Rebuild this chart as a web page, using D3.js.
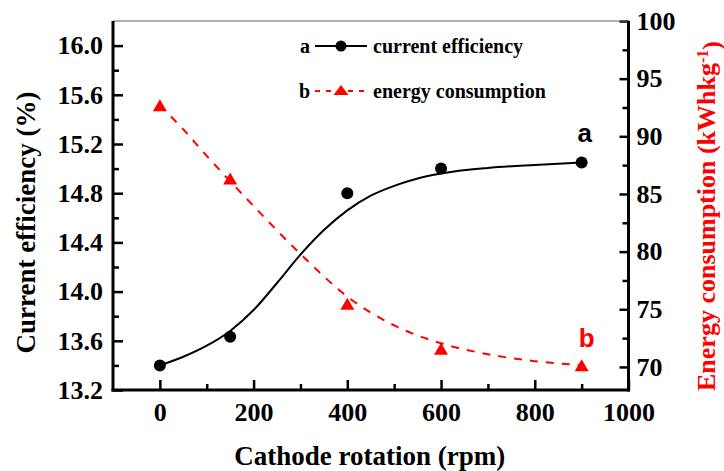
<!DOCTYPE html>
<html>
<head>
<meta charset="utf-8">
<script src="https://cdn.jsdelivr.net/npm/d3@7/dist/d3.min.js"></script>
<style>
  html, body { margin: 0; padding: 0; background: #fff; }
  svg { display: block; }
  .serif { font-family: "Liberation Serif", "Times New Roman", serif; font-weight: bold; }
  .sans { font-family: "Liberation Sans", Arial, sans-serif; font-weight: bold; }
</style>
</head>
<body>
<svg id="chart" width="724" height="471"></svg>
<script>
// Measured points
const rotation = [0, 150, 400, 600, 900];
const efficiency = [13.40, 13.633, 14.80, 15.00, 15.05];
const energy = [92.7, 86.35, 75.47, 71.57, 70.15];

// Fitted trend lines (sampled along each curve)
const effFitX = [0, 50, 100, 150, 200, 250, 300, 350, 400, 450, 500, 550, 600, 700, 800, 900];
const effFitY = [13.40, 13.47, 13.56, 13.68, 13.85, 14.07, 14.30, 14.50, 14.66, 14.78, 14.86, 14.92, 14.96, 15.005, 15.03, 15.05];
const energyFitX = [0, 50, 100, 150, 200, 300, 400, 500, 600, 700, 800, 900];
const energyFitY = [92.7, 90.6, 88.3, 86.1, 83.95, 79.8, 76.1, 73.6, 72.05, 71.1, 70.5, 70.15];

// Axis ticks
const xTicks = [0, 200, 400, 600, 800, 1000];
const xMinor = [100, 300, 500, 700, 900];
const yTicks = [13.2, 13.6, 14.0, 14.4, 14.8, 15.2, 15.6, 16.0];
const yMinor = [13.4, 13.8, 14.2, 14.6, 15.0, 15.4, 15.8];
const y2Ticks = [70, 75, 80, 85, 90, 95, 100];
const y2Minor = [72.5, 77.5, 82.5, 87.5, 92.5, 97.5];

const SERIF = '"Liberation Serif", "Times New Roman", serif';
const svg = d3.select("#chart");
const plotL = 113, plotR = 628.5, plotT = 21, plotB = 390;

const x = d3.scaleLinear().domain([-100, 1000]).range([plotL, plotR]);
const y = d3.scaleLinear().domain([13.2, 16.2]).range([plotB, plotT]);
const y2 = d3.scaleLinear().domain([68, 100]).range([plotB, plotT]);

function styleAxis(g, size) {
  g.attr("font-family", null).attr("font-size", null);
  g.select(".domain").remove();
  g.selectAll(".tick line").attr("stroke", "#000").attr("stroke-width", 2.5);
  g.selectAll(".tick text").attr("fill", "#000")
    .style("font-family", SERIF).style("font-weight", "bold")
    .style("font-size", size + "px");
}

// Bottom axis
const gx = svg.append("g").attr("transform", `translate(0,${plotB})`)
  .call(d3.axisBottom(x).tickValues(xTicks).tickFormat(d3.format("d")).tickSize(-10).tickPadding(13));
styleAxis(gx, 26);
const gxm = svg.append("g").attr("transform", `translate(0,${plotB})`)
  .call(d3.axisBottom(x).tickValues(xMinor).tickFormat("").tickSize(-6));
styleAxis(gxm, 26);

// Left axis
const gy = svg.append("g").attr("transform", `translate(${plotL},0)`)
  .call(d3.axisLeft(y).tickValues(yTicks).tickFormat(d3.format(".1f")).tickSize(-10).tickPadding(10));
styleAxis(gy, 26);
const gym = svg.append("g").attr("transform", `translate(${plotL},0)`)
  .call(d3.axisLeft(y).tickValues(yMinor).tickFormat("").tickSize(-6));
styleAxis(gym, 26);

// Right axis
const gy2 = svg.append("g").attr("transform", `translate(${plotR},0)`)
  .call(d3.axisRight(y2).tickValues(y2Ticks).tickFormat(d3.format("d")).tickSize(-9).tickPadding(8));
styleAxis(gy2, 26);
const gy2m = svg.append("g").attr("transform", `translate(${plotR},0)`)
  .call(d3.axisRight(y2).tickValues(y2Minor).tickFormat("").tickSize(-6));
styleAxis(gy2m, 26);

// Frame
svg.append("line").attr("x1", plotL).attr("x2", plotR).attr("y1", plotT).attr("y2", plotT)
  .attr("stroke", "#666").attr("stroke-width", 1.2);
svg.append("line").attr("x1", plotL).attr("x2", plotL).attr("y1", plotT).attr("y2", plotB + 1.5)
  .attr("stroke", "#000").attr("stroke-width", 3);
svg.append("line").attr("x1", plotR).attr("x2", plotR).attr("y1", plotT).attr("y2", plotB + 1.5)
  .attr("stroke", "#000").attr("stroke-width", 3);
svg.append("line").attr("x1", plotL - 1.5).attr("x2", plotR + 1.5).attr("y1", plotB).attr("y2", plotB)
  .attr("stroke", "#000").attr("stroke-width", 3);

// Trend curves
const effLine = d3.line().x((d, i) => x(effFitX[i])).y(d => y(d)).curve(d3.curveMonotoneX);
svg.append("path").datum(effFitY).attr("d", effLine)
  .attr("fill", "none").attr("stroke", "#000").attr("stroke-width", 2);

const energyLine = d3.line().x((d, i) => x(energyFitX[i])).y(d => y2(d)).curve(d3.curveMonotoneX);
svg.append("path").datum(energyFitY).attr("d", energyLine)
  .attr("fill", "none").attr("stroke", "#f00").attr("stroke-width", 2)
  .attr("stroke-dasharray", "8,8");

// Triangle marker centred on its bounding box
function triangle(cx, cy, w, h) {
  return `M${cx},${cy - h / 2}L${cx + w / 2},${cy + h / 2}L${cx - w / 2},${cy + h / 2}Z`;
}

// Markers
svg.append("g").selectAll("circle").data(efficiency).join("circle")
  .attr("cx", (d, i) => x(rotation[i])).attr("cy", d => y(d)).attr("r", 6).attr("fill", "#000");
svg.append("g").selectAll("path").data(energy).join("path")
  .attr("d", (d, i) => triangle(x(rotation[i]), y2(d), 14, 12)).attr("fill", "#f00");

// Curve labels
svg.append("text").attr("class", "sans").attr("x", x(900) + 3).attr("y", y(15.05) - 20)
  .attr("text-anchor", "middle").style("font-size", "26px").attr("fill", "#000").text("a");
svg.append("text").attr("class", "sans").attr("x", x(900) + 5).attr("y", y2(70.15) - 18)
  .attr("text-anchor", "middle").style("font-size", "26px").attr("fill", "#f00").text("b");

// Legend
const lg = svg.append("g");
lg.append("text").attr("class", "serif").attr("x", 300).attr("y", 53).style("font-size", "20px").text("a");
lg.append("line").attr("x1", 315).attr("x2", 367).attr("y1", 46).attr("y2", 46)
  .attr("stroke", "#000").attr("stroke-width", 2);
lg.append("circle").attr("cx", 341).attr("cy", 46).attr("r", 5.5).attr("fill", "#000");
lg.append("text").attr("class", "serif").attr("x", 373).attr("y", 53).style("font-size", "20px").text("current efficiency");

lg.append("text").attr("class", "serif").attr("x", 299).attr("y", 98).style("font-size", "20px").text("b");
lg.append("line").attr("x1", 315).attr("x2", 367).attr("y1", 91).attr("y2", 91)
  .attr("stroke", "#f00").attr("stroke-width", 2).attr("stroke-dasharray", "5,6");
lg.append("path").attr("d", triangle(341, 90, 15, 10)).attr("fill", "#f00");
lg.append("text").attr("class", "serif").attr("x", 373).attr("y", 98).style("font-size", "20px").text("energy consumption");

// Axis titles
svg.append("text").attr("class", "serif").attr("x", (plotL + plotR) / 2 - 1).attr("y", 465)
  .attr("text-anchor", "middle").style("font-size", "27px").text("Cathode rotation (rpm)");

svg.append("text").attr("class", "serif")
  .attr("transform", `translate(35,${(plotT + plotB) / 2 + 17}) rotate(-90)`)
  .attr("text-anchor", "middle").style("font-size", "27px").text("Current efficiency (%)");

const rt = svg.append("text").attr("class", "serif").attr("fill", "#f00")
  .attr("transform", `translate(715,216) rotate(-90)`)
  .attr("text-anchor", "middle").style("font-size", "26px");
rt.append("tspan").text("Energy consumption (kWhkg");
rt.append("tspan").attr("dy", "-0.45em").style("font-size", "16px").text("-1");
rt.append("tspan").attr("dy", "0.45em").text(")");
</script>
</body>
</html>
